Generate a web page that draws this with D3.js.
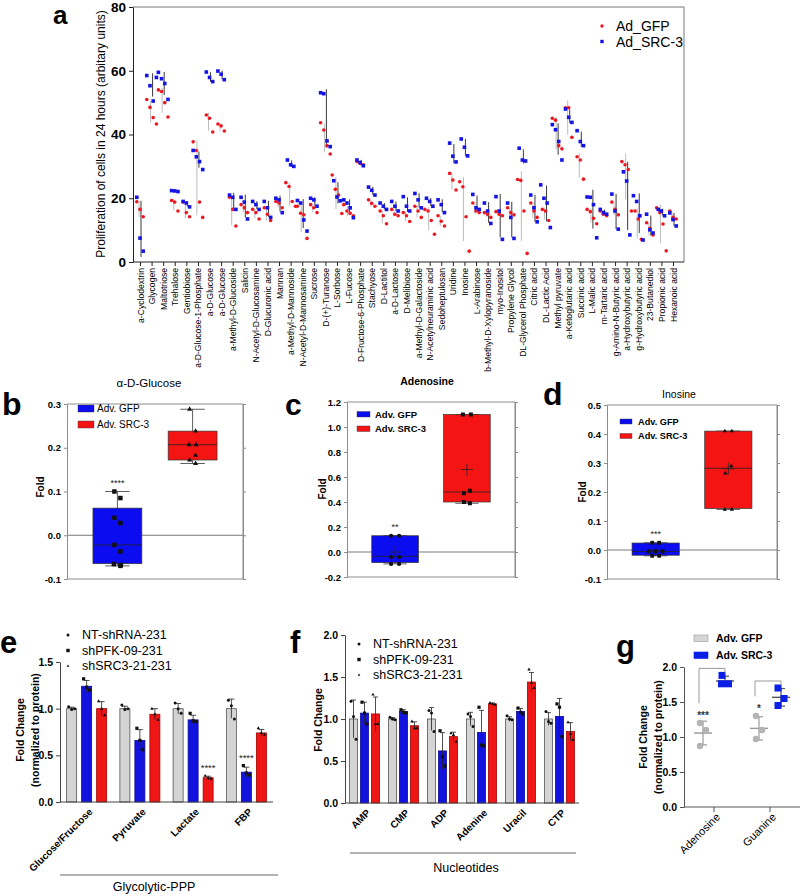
<!DOCTYPE html>
<html><head><meta charset="utf-8">
<script src="https://cdn.jsdelivr.net/npm/d3@7"></script>
<style>body{margin:0;background:#fff}</style>
</head><body><script>
// ================= DATA =================
// Panel a
const aCategories = ["a-Cyclodextrin","Glycogen","Maltotriose","Trehalose","Gentiobiose","a-D-Glucose-1-Phosphate","a-D-Glucose","a-D-Glucose","a-Methyl-D-Glucoside","Salicin","N-Acetyl-D-Glucosamine","D-Glucuronic acid","Mannan","a-Methyl-D-Mannoside","N-Acetyl-D-Mannosamine","Sucrose","D-(+)-Turanose","L-Sorbose","L-Fucose","D-Fructose-6-Phosphate","Stachyose","D-Lactitol","a-D-Lactose","D-Melibiose","a-Methyl-D-Galactoside","N-Acetylneuraminic acid","Sedoheptulosan","Uridine","Inosine","L-Arabinose","b-Methyl-D-Xylopyranoside","myo-Inositol","Propylene Glycol","DL-Glycerol Phosphate","Citric acid","DL-Lactic Acid","Methyl pyruvate","a-Ketoglutaric acid","Succinic acid","L-Malic acid","m-Tartaric acid","g-Amino-N-Butyric acid","a-Hydroxybutyric acid","g-Hydroxybutyric acid","23-Butanediol","Propionic acid","Hexanoic acid"];
const aSeries = ["Ad_GFP","Ad_SRC-3"];
const aGFP = [[18.9,16.5,14.2],[51,48.5,45.3,43.3],[54,53.5,50,45.5],[19.3,18.8,16],[18.8,15.5,14.2],[37.7,35,18.8,14],[46.1,45.1,40.8],[43.3,42.7,41.1],[20.3,16.5,11.3],[18,17,15.5],[16.5,15.5,13.5],[17,15,13],[19,18.5,17],[24.9,23.7,19,17.5],[17.5,15.3,14.8,7.4],[18,17,15.5],[43.7,41.4,36.5,33.9],[27.3,22.8,21,15.2],[18,16,15.3,14.5],[31.5,31,30.5],[19.5,18.4,17.5],[16,14.5,12],[16.5,15,14.5],[15.5,14.5,12.7],[17.5,16,14],[16.5,16,13,8.7],[14.5,12.8,11.3],[27.8,25.7,22.6],[25.2,23.6,14.2,3.4],[18.5,16,15.5],[15.5,15,14],[15.8,15,14.5],[17,15.5,14.8],[25.9,25.6,16,2.7],[18.5,16,14],[16.5,16,13],[45.1,44.5,36.5,35.5],[48.4,48.4,39.1],[33,32,26],[16.5,15.8,13.7,12],[16,15,14.5],[18.8,16.5,14.8],[31.5,30.5,29,16],[16,13.5,7.1],[12.3,10.6,8.5],[17,15.5,11.9,3.5],[16,14,13.5]];
const aSRC = [[20.3,7.5,3.4],[58.5,55.3,50.5,57.9],[59.5,57.5,56,51],[22.4,22.3,22.1],[19,18.5,17.3],[35,33,31.5,29],[59.6,57.9,56.6],[59.9,58.9,57.2],[21,20.3,16.5],[20.3,18.8,13.5],[19,18,16.5],[19,17,14],[20,19.5,15.5],[32,30.5,30],[19.3,18.5,13.2,9.7],[20,19.5,17.5],[53.1,52.8,38,36.2],[25.5,20.4,19.2],[19.5,18.5,17,13.9],[32,31.2,30.2],[23.5,22.5,21],[18.5,17.5,16.5],[19,17.5,16],[20.5,17.5,16],[21.5,19.5,17],[20,19,17.5],[19.5,18,15.5],[37.3,33.2,31.4],[38.6,36,33.3],[21.2,17,16.5],[18.5,16,12.1],[20.5,16,7.1],[18.5,14,7.4],[35.7,32,31.7],[21,17,12.6],[24.2,20,18.5,10.8],[43.1,41.5,37.8,32],[48,45.4,43.8],[41.2,37.8,36.5],[20.4,20.3,18,7.6],[16.5,15.5,15],[21.3,16,10.3],[28.3,25.4,8.5],[20.8,19,14.5,6.9],[15,10.1,9.1],[16.5,16,14.5],[15.4,13.3,11.3]];
const aTicks = [0,20,40,60,80];

// Panels b, c, d (box stats: min, q1, median, q3, max)
const boxGroups = ["Adv. GFP","Adv. SRC-3"];
const bGFPStats = [-0.07,-0.065,-0.022,0.062,0.1];
const bSRCStats = [0.164,0.172,0.207,0.238,0.288];
const bGFPPts = [0.1,0.085,0.04,0.028,-0.022,-0.037,-0.066,-0.07,-0.068];
const bSRCPts = [0.288,0.238,0.207,0.207,0.183,0.172,0.164];
const bTicks = [-0.1,0,0.1,0.2,0.3];

const cGFPStats = [-0.095,-0.085,-0.035,0.13,0.13];
const cSRCStats = [0.39,0.40,0.48,1.10,1.10];
const cGFPPts = [0.13,0.13,-0.04,-0.04,-0.095,-0.095];
const cSRCPts = [1.1,1.1,0.49,0.47,0.39,0.40];
const cMeans = [0.0,0.66];
const cTicks = [-0.2,0,0.2,0.4,0.6,0.8,1.0,1.2];

const dGFPStats = [-0.02,-0.018,-0.005,0.024,0.025];
const dSRCStats = [0.14,0.143,0.282,0.41,0.41];
const dGFPPts = [0.025,0.025,-0.005,-0.005,-0.005,-0.02,-0.02];
const dSRCPts = [0.41,0.41,0.29,0.265,0.14,0.14];
const dMeans = [0.0,0.28];
const dTicks = [-0.1,0,0.1,0.2,0.3,0.4,0.5];

// Panels e, f
const barSeries = ["NT-shRNA-231","shPFK-09-231","shSRC3-21-231"];
const eCats = ["Glucose/Fructose","Pyruvate","Lactate","FBP"];
const eNT = [1.0,1.0,1.0,1.0];
const ePFK = [1.24,0.66,0.88,0.32];
const eSRC3 = [1.0,0.94,0.26,0.74];
const eNTPts = [[1.02,0.99,1.0],[1.04,0.99,1.0],[1.06,1.0,0.95],[1.09,1.03,0.89]];
const ePFKPts = [[1.32,1.23,1.2],[0.79,0.66,0.56],[0.95,0.87,0.86],[0.39,0.31,0.29]];
const eSRC3Pts = [[1.08,1.0,0.93],[1.0,0.94,0.88],[0.28,0.255,0.25],[0.79,0.74,0.72]];
const eSig = [{cat:"Lactate",s:2,t:"****"},{cat:"FBP",s:1,t:"****"}];
const eTicks = [0,0.5,1.0,1.5];

const fCats = ["AMP","CMP","ADP","Adenine","Uracil","CTP"];
const fNT = [1.0,1.0,1.0,1.0,1.0,1.0];
const fPFK = [1.07,1.09,0.62,0.84,1.09,1.03];
const fSRC3 = [1.06,0.92,0.79,1.18,1.44,0.85];
const fNTPts = [[1.21,1.03,0.76],[1.02,1.0,0.99],[1.1,1.07,0.85],[1.06,1.03,0.91],[1.04,1.0,0.99],[1.09,0.97,0.95]];
const fPFKPts = [[1.2,1.07,0.94],[1.11,1.08,1.07],[0.86,0.55,0.44],[1.14,0.69,0.68],[1.13,1.08,1.06],[1.18,1.14,0.79]];
const fSRC3Pts = [[1.29,0.94,0.94],[0.97,0.89,0.89],[0.83,0.81,0.73],[1.19,1.18,1.17],[1.59,1.43,1.37],[0.96,0.82,0.75]];
const fTicks = [0,0.5,1.0,1.5,2.0];

// Panel g
const gCats = ["Adenosine","Guanine"];
const gGFPPts = [[1.2,1.1,0.87],[1.3,1.1,0.97]];
const gSRCPts = [[1.88,1.76,1.76],[1.7,1.55,1.45]];
const gSig = ["***","*"];
const gTicks = [0,0.5,1.0,1.5,2.0];

// ================= DRAWING =================
const FONT = '"Liberation Sans", Arial, Helvetica, sans-serif';
const svg = d3.select("body").append("svg").attr("width",800).attr("height",896)
  .style("font-family",FONT);
const fmt1 = d => d.toFixed(1);

function marker(g, shape, cx, cy, s, fill){
  if(shape==="circle") g.append("circle").attr("cx",cx).attr("cy",cy).attr("r",s/2).attr("fill",fill);
  else if(shape==="square") g.append("rect").attr("x",cx-s/2).attr("y",cy-s/2).attr("width",s).attr("height",s).attr("fill",fill);
  else g.append("path").attr("d",d3.symbol(d3.symbolTriangle,s*s*0.55)()).attr("transform",`translate(${cx},${cy})`).attr("fill",fill);
}
function swarm(vals, tol, gap, alt){
  const res = vals.map(()=>0), used = vals.map(()=>false);
  let k=0;
  vals.forEach((v,i)=>{
    if(used[i]) return;
    const grp = vals.map((w,j)=>j).filter(j=>!used[j] && Math.abs(vals[j]-v)<=tol);
    grp.forEach((j,m)=>{ used[j]=true; res[j] = grp.length>1 ? (m-(grp.length-1)/2)*gap : (k%2 ? alt : -alt); });
    k++;
  });
  return res;
}
function styleAxis(sel, size, weight, col){
  sel.selectAll("text").attr("font-size",size).attr("font-weight",weight).attr("fill","#000").style("font-family",FONT);
  sel.selectAll("line").attr("stroke",col);
  sel.select(".domain").attr("stroke",col);
}
function panelLabel(t,x,y,size){
  svg.append("text").attr("x",x).attr("y",y).attr("font-size",size).attr("font-weight","bold").text(t);
}

// ---------- Panel a ----------
(function(){
  const g = svg.append("g");
  const x = d3.scalePoint().domain(d3.range(aCategories.length)).range([140,673]);
  const y = d3.scaleLinear().domain([0,80]).range([262,7]);
  const L=133, R=684;
  g.append("line").attr("x1",L).attr("x2",R).attr("y1",y(80)).attr("y2",y(80)).attr("stroke","#777");
  g.append("line").attr("x1",R).attr("x2",R).attr("y1",y(80)).attr("y2",y(0)).attr("stroke","#777");
  g.append("line").attr("x1",L).attr("x2",R).attr("y1",y(0)).attr("y2",y(0)).attr("stroke","#222");
  g.append("g").attr("transform",`translate(${L},0)`)
    .call(d3.axisLeft(y).tickValues(aTicks).tickSize(4).tickSizeOuter(0).tickPadding(3))
    .call(s=>styleAxis(s,13.5,"bold","#222"));
  const xa = g.append("g").attr("transform",`translate(0,${y(0)})`)
    .call(d3.axisBottom(x).tickSize(4).tickSizeOuter(0).tickFormat(i=>aCategories[i]));
  xa.select(".domain").remove();
  xa.selectAll("line").attr("stroke","#222");
  xa.selectAll("text").attr("transform","rotate(-90)").attr("text-anchor","end")
    .attr("x",-6).attr("y",0).attr("dy","0.35em").attr("font-size",8.6).attr("fill","#000").style("font-family",FONT);
  g.append("text").attr("transform",`translate(105,134) rotate(-90)`).attr("text-anchor","middle")
    .attr("font-size",12).text("Proliferation of cells in 24 hours (arbitary units)");
  const cols = ["#ee1620","#1414e4"], lcols = ["#bcbcbc","#3a3a3a"];
  aCategories.forEach((c,i)=>{
    const cx = x(i);
    [aGFP[i],aSRC[i]].forEach((vals,k)=>{
      const m = d3.mean(vals), s = d3.deviation(vals);
      g.append("line").attr("x1",cx+(k?1:-1)).attr("x2",cx+(k?1:-1))
        .attr("y1",y(Math.max(0,m-s))).attr("y2",y(m+s)).attr("stroke",lcols[k]).attr("stroke-width",1);
    });
  });
  aCategories.forEach((c,i)=>{
    const cx = x(i);
    [aGFP[i],aSRC[i]].forEach((vals,k)=>{
      const n = vals.length;
      vals.forEach((v,j)=>{
        marker(g, k?"square":"circle", cx+(j-(n-1)/2)*3.2, y(v), 3.6, cols[k]);
      });
    });
  });
  // legend
  aSeries.forEach((s,k)=>{
    marker(g, k?"square":"circle", 602, 26+k*15.5, 3.4, cols[k]);
    g.append("text").attr("x",616).attr("y",31+k*15.5).attr("font-size",14).text(s);
  });
  panelLabel("a",53,24,26);
})();

// ---------- Box panels ----------
function boxPanel(o){
  const g = svg.append("g");
  const y = d3.scaleLinear().domain(o.domain).range([o.yb,o.yt]);
  const x = d3.scalePoint().domain(boxGroups).range([o.xl,o.xr]).padding(0.67);
  const bw = x.step()*0.65;
  const fr = "#8c8c8c";
  g.append("line").attr("x1",o.xl).attr("x2",o.xr).attr("y1",o.yt).attr("y2",o.yt).attr("stroke",fr);
  g.append("line").attr("x1",o.xr).attr("x2",o.xr).attr("y1",o.yt).attr("y2",o.yb).attr("stroke",fr);
  g.append("line").attr("x1",o.xl).attr("x2",o.xr).attr("y1",o.yb).attr("y2",o.yb).attr("stroke",fr);
  g.append("line").attr("x1",o.xl).attr("x2",o.xr).attr("y1",y(0)).attr("y2",y(0)).attr("stroke","#7a7a7a");
  g.append("g").attr("transform",`translate(${o.xl},0)`)
    .call(d3.axisLeft(y).tickValues(o.ticks).tickFormat(fmt1).tickSize(3).tickSizeOuter(0).tickPadding(3))
    .call(s=>styleAxis(s,9.5,"bold",fr));
  g.append("g").attr("transform",`translate(${o.xr},0)`)
    .call(d3.axisRight(y).tickValues(o.ticks).tickFormat("").tickSize(3).tickSizeOuter(0))
    .call(s=>styleAxis(s,9,"normal",fr));
  g.append("text").attr("x",o.tx).attr("y",o.ty).attr("text-anchor","middle").attr("font-size",o.tsize)
    .attr("font-weight",o.tbold?"bold":"normal").text(o.title);
  g.append("text").attr("transform",`translate(${o.fx},${o.fy}) rotate(-90)`).attr("text-anchor","middle")
    .attr("dy","0.35em").attr("font-size",10).attr("font-weight","bold").text("Fold");
  const cols = ["#0c0cf0","#f51414"];
  [0,1].forEach(k=>{
    const st = k?o.srcStats:o.gfpStats, pts = k?o.srcPts:o.gfpPts;
    const cx = x(boxGroups[k]);
    g.append("line").attr("x1",cx).attr("x2",cx).attr("y1",y(st[0])).attr("y2",y(st[4])).attr("stroke","#333").attr("stroke-width",0.8);
    [st[0],st[4]].forEach(v=>g.append("line").attr("x1",cx-bw*0.25).attr("x2",cx+bw*0.25).attr("y1",y(v)).attr("y2",y(v)).attr("stroke","#333").attr("stroke-width",0.8));
    g.append("rect").attr("x",cx-bw/2).attr("width",bw).attr("y",y(st[3])).attr("height",y(st[1])-y(st[3]))
      .attr("fill",cols[k]).attr("stroke","#333").attr("stroke-width",0.7);
    g.append("line").attr("x1",cx-bw/2).attr("x2",cx+bw/2).attr("y1",y(st[2])).attr("y2",y(st[2])).attr("stroke","#222").attr("stroke-width",0.8);
    if(o.means){
      const my = y(o.means[k]);
      g.append("line").attr("x1",cx-6).attr("x2",cx+6).attr("y1",my).attr("y2",my).attr("stroke","#222").attr("stroke-width",0.8);
      g.append("line").attr("x1",cx).attr("x2",cx).attr("y1",my-6).attr("y2",my+6).attr("stroke","#222").attr("stroke-width",0.8);
    }
    const offs = swarm(pts, o.tol, o.gap, 3);
    pts.forEach((v,j)=>marker(g, o.shapes[k], cx+offs[j], y(v), o.msize[k], "#111"));
  });
  g.append("text").attr("x",x(boxGroups[0])).attr("y",y(o.gfpStats[4])-6).attr("text-anchor","middle")
    .attr("font-size",9).attr("fill","#222").text(o.sig);
  boxGroups.forEach((s,k)=>{
    const lg = o.leg;
    g.append("rect").attr("x",lg.x).attr("y",lg.y+k*lg.dy).attr("width",lg.w).attr("height",lg.h)
      .attr("fill",cols[k]).attr("stroke","#333").attr("stroke-width",0.4);
    g.append("text").attr("x",lg.tx).attr("y",lg.y+k*lg.dy+lg.h/2).attr("dy","0.35em").attr("font-size",lg.fs)
      .attr("font-weight",lg.bold?"bold":"normal").text(s);
  });
  panelLabel(o.label,o.lx,o.ly,o.lsize);
}
boxPanel({xl:67,xr:243,yt:404,yb:579,domain:[-0.1,0.3],ticks:bTicks,gfpStats:bGFPStats,srcStats:bSRCStats,
  gfpPts:bGFPPts,srcPts:bSRCPts,shapes:["square","triangle"],msize:[4.5,4.5],tol:0.004,gap:7,
  title:"α-D-Glucose",tx:149,ty:387,tsize:11.5,tbold:false,fx:40,fy:487,sig:"****",
  leg:{x:78,y:405,w:16,h:7,dy:16,tx:97,fs:10,bold:false},label:"b",lx:2,ly:415,lsize:32});
boxPanel({xl:347,xr:515,yt:402,yb:577,domain:[-0.2,1.2],ticks:cTicks,gfpStats:cGFPStats,srcStats:cSRCStats,
  gfpPts:cGFPPts,srcPts:cSRCPts,means:cMeans,shapes:["circle","square"],msize:[4.2,4],tol:0.01,gap:8,
  title:"Adenosine",tx:427,ty:385,tsize:10.5,tbold:true,fx:322,fy:489,sig:"**",
  leg:{x:357,y:411.5,w:13,h:5.5,dy:14.5,tx:375,fs:9.5,bold:true},label:"c",lx:285,ly:415,lsize:30});
boxPanel({xl:607,xr:777,yt:405,yb:579,domain:[-0.1,0.5],ticks:dTicks,gfpStats:dGFPStats,srcStats:dSRCStats,
  gfpPts:dGFPPts,srcPts:dSRCPts,means:dMeans,shapes:["square","triangle"],msize:[3.8,3.8],tol:0.004,gap:7,
  title:"Inosine",tx:679,ty:398,tsize:10.5,tbold:false,fx:582,fy:492,sig:"***",
  leg:{x:620,y:419,w:12,h:5,dy:14.5,tx:638,fs:9.2,bold:true},label:"d",lx:543,ly:405,lsize:32});

// ---------- Bar panels ----------
function barPanel(o){
  const g = svg.append("g");
  const y = d3.scaleLinear().domain([0,o.max]).range([o.y0,o.yTop]);
  const x = d3.scaleBand().domain(o.cats).range([o.xl,o.xr]);
  const fills = ["#d4d4d4","#1313df","#f01616"], strokes = ["#555","#0a0a9a","#a40000"];
  const shapes = ["circle","square","triangle"];
  const center = (c,s)=> x(c)+x.bandwidth()/2 + (s-1)*o.pitch;
  o.vals.forEach((arr,s)=>{
    arr.forEach((v,i)=>{
      const cx = center(o.cats[i],s);
      g.append("rect").attr("x",cx-o.bw/2).attr("y",y(v)).attr("width",o.bw).attr("height",y(0)-y(v))
        .attr("fill",fills[s]).attr("stroke",strokes[s]).attr("stroke-width",0.8);
    });
  });
  o.vals.forEach((arr,s)=>{
    arr.forEach((v,i)=>{
      const cx = center(o.cats[i],s);
      const pts = o.pts[s][i], sd = d3.deviation(pts);
      g.append("line").attr("x1",cx).attr("x2",cx).attr("y1",y(Math.max(0,v-sd))).attr("y2",y(v+sd)).attr("stroke","#222").attr("stroke-width",0.8);
      g.append("line").attr("x1",cx-o.cap/2).attr("x2",cx+o.cap/2).attr("y1",y(v+sd)).attr("y2",y(v+sd)).attr("stroke","#222").attr("stroke-width",0.8);
      pts.forEach((p,j)=>marker(g, shapes[s], cx+(j-1)*o.spread*(j%2?0.3:1), y(p), s===1?3.2:3, "#111"));
    });
  });
  g.append("line").attr("x1",o.xl).attr("x2",o.xr).attr("y1",o.y0).attr("y2",o.y0).attr("stroke","#444");
  g.append("g").attr("transform",`translate(${o.xl},0)`)
    .call(d3.axisLeft(y).tickValues(o.ticks).tickFormat(fmt1).tickSize(4).tickSizeOuter(0).tickPadding(3))
    .call(s=>styleAxis(s,10.5,"bold","#444"));
  o.cats.forEach(c=>{
    const cx = x(c)+x.bandwidth()/2;
    g.append("text").attr("transform",`translate(${cx+4},${o.y0+8}) rotate(-45)`).attr("text-anchor","end")
      .attr("dy","0.35em").attr("font-size",10).attr("font-weight","bold").text(c);
  });
  (o.sig||[]).forEach(sg=>{
    const i = o.cats.indexOf(sg.cat), cx = center(sg.cat,sg.s);
    const top = d3.max(o.pts[sg.s][i]);
    g.append("text").attr("x",cx).attr("y",y(top)-5).attr("text-anchor","middle").attr("font-size",9.5).attr("fill","#222").text(sg.t);
  });
  o.ylab.forEach((t,k)=>{
    g.append("text").attr("transform",`translate(${o.ylx[k]},${o.yly}) rotate(-90)`).attr("text-anchor","middle")
      .attr("dy","0.35em").attr("font-size",10.5).attr("font-weight","bold").text(t);
  });
  barSeries.forEach((s,k)=>{
    const ly = o.leg.y + k*o.leg.dy;
    marker(g, shapes[k], o.leg.mx, ly, k===1?3.4:(k===0?3:2.4), "#111");
    g.append("text").attr("x",o.leg.tx).attr("y",ly).attr("dy","0.35em").attr("font-size",12.5).text(s);
  });
  g.append("line").attr("x1",o.gl[0]).attr("x2",o.gl[1]).attr("y1",o.gl[2]).attr("y2",o.gl[2]).attr("stroke","#666");
  g.append("text").attr("x",o.gt[0]).attr("y",o.gt[1]).attr("text-anchor","middle").attr("font-size",12.5).text(o.group);
  panelLabel(o.label,o.lx,o.ly,31);
}
barPanel({xl:60,xr:273,y0:802,yTop:662,max:1.5,ticks:eTicks,cats:eCats,vals:[eNT,ePFK,eSRC3],pts:[eNTPts,ePFKPts,eSRC3Pts],
  bw:10,pitch:15,cap:6,spread:3,sig:eSig,ylab:["Fold Change","(normalized to protein)"],ylx:[20,35],yly:730,
  leg:{mx:68,tx:82,y:635,dy:15.5},gl:[60,278,875],gt:[154,891],group:"Glycolytic-PPP",label:"e",lx:0,ly:653});
barPanel({xl:345,xr:579,y0:803,yTop:635,max:2.0,ticks:fTicks,cats:fCats,vals:[fNT,fPFK,fSRC3],pts:[fNTPts,fPFKPts,fSRC3Pts],
  bw:8,pitch:11,cap:5,spread:2.5,ylab:["Fold Change"],ylx:[318],yly:720,
  leg:{mx:359,tx:373,y:644,dy:15.5},gl:[350,576,853],gt:[466,872],group:"Nucleotides",label:"f",lx:290,ly:653});

// ---------- Panel g ----------
(function(){
  const g = svg.append("g");
  const y = d3.scaleLinear().domain([0,2]).range([807,667]);
  const x = d3.scalePoint().domain(gCats).range([714,770]);
  const off = 11;
  g.append("line").attr("x1",684).attr("x2",800).attr("y1",807).attr("y2",807).attr("stroke","#555");
  gCats.forEach(c=>g.append("line").attr("x1",x(c)).attr("x2",x(c)).attr("y1",807).attr("y2",812).attr("stroke","#555"));
  g.append("g").attr("transform","translate(684,0)")
    .call(d3.axisLeft(y).tickValues(gTicks).tickFormat(fmt1).tickSize(4).tickSizeOuter(0).tickPadding(3))
    .call(s=>styleAxis(s,10.5,"bold","#555"));
  const cols = ["#b4b4b4","#0b1ee6"], lc = ["#9a9a9a","#555"];
  gCats.forEach((c,i)=>{
    [gGFPPts[i],gSRCPts[i]].forEach((pts,k)=>{
      const cx = x(c)+(k?off:-off);
      const m = d3.mean(pts), s = d3.deviation(pts);
      g.append("line").attr("x1",cx).attr("x2",cx).attr("y1",y(m-s)).attr("y2",y(m+s)).attr("stroke",lc[k]).attr("stroke-width",1.2);
      [m-s,m+s].forEach(v=>g.append("line").attr("x1",cx-4).attr("x2",cx+4).attr("y1",y(v)).attr("y2",y(v)).attr("stroke",lc[k]).attr("stroke-width",1.2));
      g.append("line").attr("x1",cx-9).attr("x2",cx+9).attr("y1",y(m)).attr("y2",y(m)).attr("stroke",lc[k]).attr("stroke-width",1.4);
      const offs = swarm(pts,0.02,7,3);
      pts.forEach((p,j)=>marker(g, k?"square":"circle", cx+offs[j], y(p), k?7:6.5, cols[k]));
    });
    const gx = x(c)-off-4, sx = x(c)+off;
    const sigV = d3.max(gGFPPts[i])+0.1;
    const top = d3.max(gSRCPts[i])+0.1;
    g.append("text").attr("x",x(c)-off).attr("y",y(sigV)+3).attr("text-anchor","middle").attr("font-size",10).attr("font-weight","bold").attr("fill","#333").text(gSig[i]);
    g.append("path").attr("d",`M${gx},${y(sigV+0.18)}V${y(top)}H${sx}V${y(top-0.06)}`).attr("fill","none").attr("stroke","#999").attr("stroke-width",1);
    g.append("text").attr("transform",`translate(${x(c)+4},${815}) rotate(-45)`).attr("text-anchor","end")
      .attr("dy","0.35em").attr("font-size",11).text(c);
  });
  ["Fold Change","(normalized to protein)"].forEach((t,k)=>{
    g.append("text").attr("transform",`translate(${643+k*15},737) rotate(-90)`).attr("text-anchor","middle")
      .attr("dy","0.35em").attr("font-size",10.5).attr("font-weight","bold").text(t);
  });
  boxGroups.forEach((s,k)=>{
    g.append("rect").attr("x",694).attr("y",635+k*17).attr("width",14).attr("height",6.5)
      .attr("fill",k?"#0b1ee6":"#d6d6d6").attr("stroke",k?"#0b1ee6":"#999").attr("stroke-width",0.6);
    g.append("text").attr("x",716).attr("y",638+k*17).attr("dy","0.35em").attr("font-size",10.5).attr("font-weight","bold").text(s);
  });
  panelLabel("g",616,657,31);
})();
</script></body></html>
